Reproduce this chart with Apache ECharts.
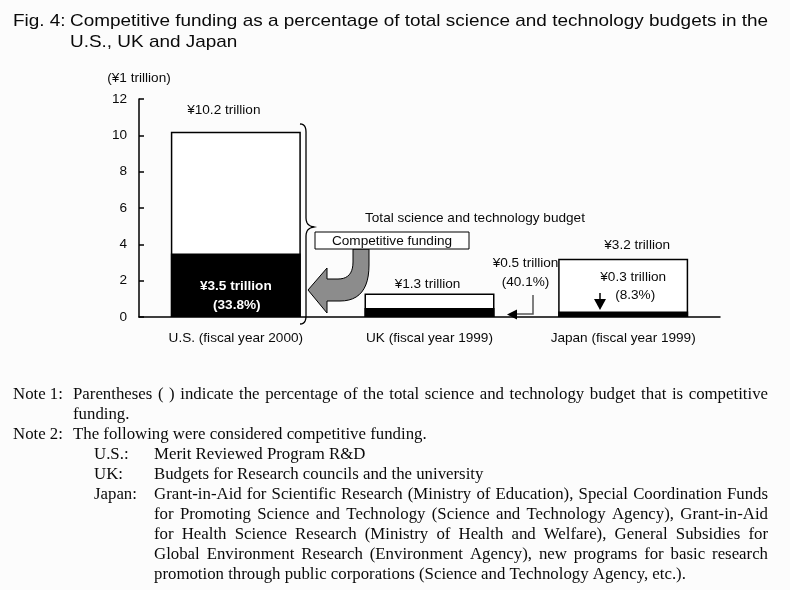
<!DOCTYPE html>
<html>
<head>
<meta charset="utf-8">
<script src="https://cdn.jsdelivr.net/npm/echarts@6/dist/echarts.min.js"></script>
<style>
html,body{margin:0;padding:0;background:#fcfcfc;}
#chart{width:790px;height:590px;}
</style>
</head>
<body>
<div id="chart"></div>
<script>
// ---- data ----
const categories = ['U.S. (fiscal year 2000)', 'UK (fiscal year 1999)', 'Japan (fiscal year 1999)'];
const totalBudget = [10.2, 1.3, 3.2];      // ¥ trillion
const competitive = [3.5, 0.5, 0.3];       // ¥ trillion
const competitivePct = [33.8, 40.1, 8.3];  // %
const yTicks = [0, 2, 4, 6, 8, 10, 12];

const titleLines = [
  'Competitive funding as a percentage of total science and technology budgets in the',
  'U.S., UK and Japan'
];
const note1 = ['Parentheses ( ) indicate the percentage of the total science and technology budget that is competitive', 'funding.'];
const note2 = 'The following were considered competitive funding.';
const note2Items = [
  ['U.S.:', ['Merit Reviewed Program R&D']],
  ['UK:', ['Budgets for Research councils and the university']],
  ['Japan:', [
    'Grant-in-Aid for Scientific Research (Ministry of Education), Special Coordination Funds',
    'for Promoting Science and Technology (Science and Technology Agency), Grant-in-Aid',
    'for Health Science Research (Ministry of Health and Welfare), General Subsidies for',
    'Global Environment Research (Environment Agency), new programs for basic research',
    'promotion through public corporations (Science and Technology Agency, etc.).'
  ]]
];

// ---- rendering ----
const SANS = '"Liberation Sans", Arial, sans-serif';
const SERIF = '"Liberation Serif", "Times New Roman", serif';
const INK = '#0a0a0a';
const FS = 13.6;
const CFONT = FS + 'px ' + SANS;

const chart = echarts.init(document.getElementById('chart'), null, {renderer: 'canvas'});
chart.setOption({
  backgroundColor: '#fcfcfc',
  animation: false,
  grid: {left: 139, right: 70, top: 99, bottom: 273},
  xAxis: {
    type: 'category', data: categories,
    axisLine: {lineStyle: {color: '#000', width: 1.5}},
    axisTick: {show: false},
    axisLabel: {color: INK, fontSize: FS, fontFamily: SANS, margin: 14}
  },
  yAxis: {
    type: 'value', min: yTicks[0], max: yTicks[yTicks.length - 1], interval: yTicks[1] - yTicks[0],
    name: '(¥1 trillion)', nameLocation: 'end', nameGap: 14,
    nameTextStyle: {color: INK, fontSize: FS, fontFamily: SANS, align: 'center'},
    axisLine: {show: true, lineStyle: {color: '#000', width: 1.5}},
    axisTick: {show: true, inside: true, length: 5, lineStyle: {color: '#000', width: 1.5}},
    axisLabel: {color: INK, fontSize: FS, fontFamily: SANS, margin: 12},
    splitLine: {show: false}
  },
  series: [
    {type: 'bar', data: totalBudget, barWidth: 130, silent: true,
     itemStyle: {color: '#fff', borderColor: '#000', borderWidth: 1.5}},
    {type: 'bar', data: competitive, barWidth: 130, barGap: '-100%', silent: true,
     itemStyle: {color: '#000'}}
  ]
});

// measuring helper
const mctx = document.createElement('canvas').getContext('2d');
function measure(t, font) { mctx.font = font; return mctx.measureText(t).width; }
function txt(x, y, text, opts) {
  opts = opts || {};
  const st = {
    text: text, fill: opts.fill || INK,
    font: opts.font || CFONT,
    align: opts.align || 'left', textAlign: opts.align || 'left',
    verticalAlign: 'middle', textVerticalAlign: 'middle'
  };
  const el = {type: 'text', x: x, y: y, style: st, silent: true, z: 100};
  if (opts.scaleX) el.scaleX = opts.scaleX;
  return el;
}
function justified(text, x0, x1, y, font, sx) {
  const words = text.split(' ');
  const ws = words.map(w => measure(w, font) * sx);
  const sum = ws.reduce((a, b) => a + b, 0);
  const gap = (x1 - x0 - sum) / (words.length - 1);
  const out = [];
  let x = x0;
  words.forEach((w, i) => { out.push(txt(x, y, w, {font: font, scaleX: sx})); x += ws[i] + gap; });
  return out;
}
// quadratic curve sampler for annotation shapes
function quad(p0, c, p1, n) {
  const pts = [];
  for (let k = 1; k <= n; k++) {
    const t = k / n, u = 1 - t;
    pts.push([u * u * p0[0] + 2 * u * t * c[0] + t * t * p1[0], u * u * p0[1] + 2 * u * t * c[1] + t * t * p1[1]]);
  }
  return pts;
}

const g = [];
// title
const TFONT = '17px ' + SANS;
const tScale = 698 / measure(titleLines[0], TFONT);
g.push(txt(13, 21, 'Fig. 4:', {font: TFONT, scaleX: tScale}));
g.push(txt(70, 21, titleLines[0], {font: TFONT, scaleX: tScale}));
g.push(txt(70, 42, titleLines[1], {font: TFONT, scaleX: tScale}));

// value labels anchored on the bars
function px(i, v) { return chart.convertToPixel({xAxisIndex: 0, yAxisIndex: 0}, [i, v]); }
const fmt = v => '¥' + v.toFixed(1) + ' trillion';
const pct = v => '(' + v.toFixed(1) + '%)';
const BOLD = 'bold ' + FS + 'px ' + SANS;
// US
let p = px(0, totalBudget[0]);
g.push(txt(p[0] - 12, p[1] - 21, fmt(totalBudget[0]), {align: 'center'}));
p = px(0, 0);
g.push(txt(p[0], p[1] - 31, fmt(competitive[0]), {align: 'center', font: BOLD, fill: '#fff'}));
g.push(txt(p[0] + 1, p[1] - 12, pct(competitivePct[0]), {align: 'center', font: BOLD, fill: '#fff'}));
// UK
p = px(1, totalBudget[1]);
g.push(txt(p[0] - 2, p[1] - 9, fmt(totalBudget[1]), {align: 'center'}));
p = px(1, 0);
g.push(txt(p[0] + 96, p[1] - 54, fmt(competitive[1]), {align: 'center'}));
g.push(txt(p[0] + 96, p[1] - 35, pct(competitivePct[1]), {align: 'center'}));
// Japan
p = px(2, totalBudget[2]);
g.push(txt(p[0] + 14, p[1] - 14, fmt(totalBudget[2]), {align: 'center'}));
p = px(2, 0);
g.push(txt(p[0] + 10, p[1] - 40, fmt(competitive[2]), {align: 'center'}));
g.push(txt(p[0] + 12, p[1] - 22, pct(competitivePct[2]), {align: 'center'}));

// brace
let brace = [[300, 124]];
brace = brace.concat(quad([300, 124], [306, 124], [306, 132], 6));
brace.push([306, 218]);
brace = brace.concat(quad([306, 218], [306, 226], [314, 227], 6));
brace = brace.concat(quad([314, 227], [306, 228], [306, 236], 6));
brace.push([306, 316]);
brace = brace.concat(quad([306, 316], [306, 324], [300, 324], 6));
g.push({type: 'polyline', silent: true, z: 90, shape: {points: brace},
  style: {fill: null, stroke: '#000', lineWidth: 1.3}});
g.push(txt(365, 218, 'Total science and technology budget'));

// big gray arrow
let arrow = [[353, 249], [369, 249], [369, 265]];
arrow = arrow.concat(quad([369, 265], [369, 301], [340, 301], 12));
arrow.push([327, 301], [327, 313], [308, 290], [327, 268], [327, 279], [338, 279]);
arrow = arrow.concat(quad([338, 279], [353, 279], [353, 262], 10));
g.push({type: 'polygon', silent: true, z: 90, shape: {points: arrow},
  style: {fill: '#8c8c8c', stroke: '#000', lineWidth: 1}});
g.push({type: 'rect', silent: true, z: 95, shape: {x: 315, y: 232, width: 154, height: 17},
  style: {fill: '#fff', stroke: '#000', lineWidth: 1}});
g.push(txt(392, 241, 'Competitive funding', {align: 'center'}));

// UK small arrow
g.push({type: 'polyline', silent: true, z: 90, shape: {points: [[533, 295], [533, 314], [515, 314]]},
  style: {stroke: '#555', lineWidth: 1.5, fill: null}});
g.push({type: 'polygon', silent: true, z: 90, shape: {points: [[507, 314.5], [517, 309.5], [517, 319.5]]},
  style: {fill: '#000'}});
// Japan down arrow
g.push({type: 'line', silent: true, z: 90, shape: {x1: 600, y1: 293, x2: 600, y2: 301},
  style: {stroke: '#000', lineWidth: 1.5}});
g.push({type: 'polygon', silent: true, z: 90, shape: {points: [[594, 299], [606, 299], [600, 310]]},
  style: {fill: '#000'}});

// notes
const NFONT = '16px ' + SERIF;
const NS = 1.05;
const nOpt = {font: NFONT, scaleX: NS};
let y = 395;
g.push(txt(13, y, 'Note 1:', nOpt));
justified(note1[0], 73, 768, y, NFONT, NS).forEach(e => g.push(e));
y += 20;
g.push(txt(73, y, note1[1], nOpt));
y += 20;
g.push(txt(13, y, 'Note 2:', nOpt));
g.push(txt(73, y, note2, nOpt));
note2Items.forEach(item => {
  y += 20;
  g.push(txt(94, y, item[0], nOpt));
  item[1].forEach((line, k) => {
    if (k > 0) y += 20;
    const last = k === item[1].length - 1;
    if (item[1].length > 1 && !last) justified(line, 154, 768, y, NFONT, NS).forEach(e => g.push(e));
    else g.push(txt(154, y, line, nOpt));
  });
});

chart.setOption({graphic: g});
</script>
</body>
</html>
